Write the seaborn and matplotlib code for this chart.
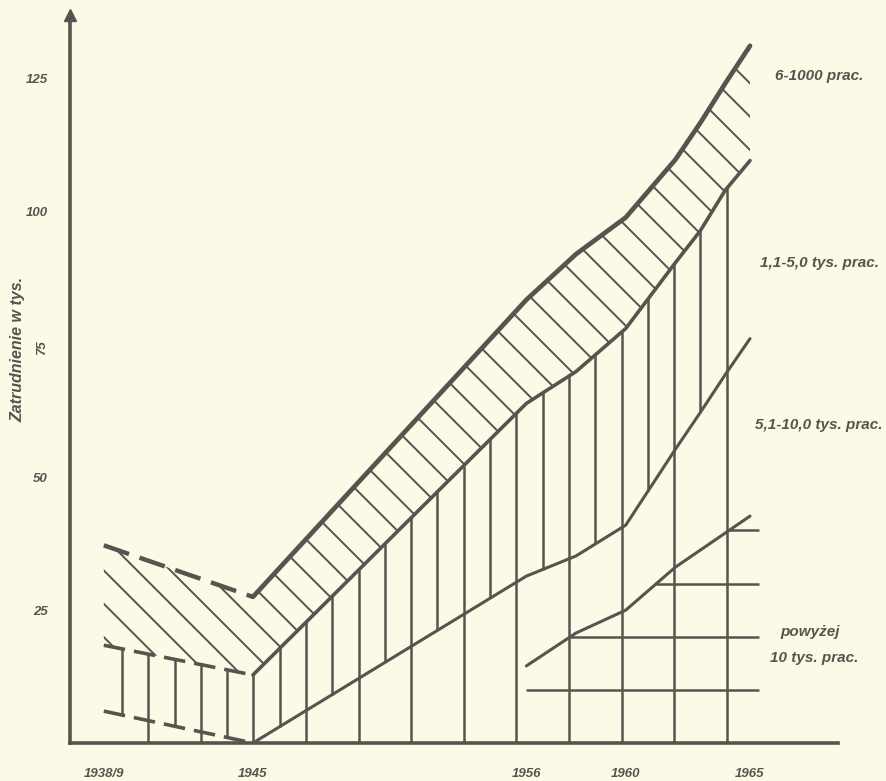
import numpy as np
import seaborn as sns
import matplotlib.pyplot as plt

# Employment (thousands) by plant size - cumulative upper boundaries of each band
years = [1939, 1945, 1956, 1958, 1960, 1962, 1963, 1964, 1965]
total = [37.2, 27.5, 83.4, 92.0, 98.9, 109.8, 116.7, 124.1, 131.2]      # top of 6-1000 prac.
upto_5000 = [18.4, 12.8, 63.9, 69.9, 78.0, 90.4, 96.4, 104.0, 109.6]   # top of 1,1-5,0 tys. prac.
upto_10000 = [6.0, 0.0, 31.4, 35.2, 41.0, 55.3, 62.2, 69.3, 76.1]      # top of 5,1-10,0 tys. prac.
over_10000 = [np.nan, np.nan, 14.5, 20.7, 25.0, 33.1, 36.3, 39.5, 42.7]  # powyzej 10 tys. prac.

x_ticks = [1939, 1945, 1956, 1960, 1965]
x_labels = ['1938/9', '1945', '1956', '1960', '1965']
y_ticks = [25, 50, 75, 100, 125]

paper = '#fcfae6'
ink = '#55554f'

sns.set_theme(style='white')
plt.rcParams['font.family'] = ['Liberation Sans', 'DejaVu Sans']
plt.rcParams['hatch.linewidth'] = 1.4
plt.rcParams['hatch.color'] = ink

fig = plt.figure(figsize=(8.86, 7.81), dpi=100, facecolor=paper)
ax = fig.add_axes([70 / 886, 38 / 781, 768 / 886, 728 / 781])
ax.set_facecolor(paper)

# diagonal hatch: small plants
ax.fill_between(years, upto_5000, total, facecolor='none', edgecolor=ink,
                hatch='\\', linewidth=0)

# vertical hatch: every second line runs down to the axis
hatch_x = np.arange(1939.73, 1964.5, 1.058)
tops = np.interp(hatch_x, years, upto_5000)
lows = np.interp(hatch_x, years, upto_10000)
lows = np.where(np.arange(len(hatch_x)) % 2 == 1, 0, lows)
ax.vlines(hatch_x, lows, tops, color=ink, lw=1.8)

# horizontal hatch: plants above 10 thousand
big_years = years[2:]
big_vals = over_10000[2:]
levels = [10, 20, 30, 40]
starts = np.interp(levels, big_vals, big_years)
ax.hlines(levels, starts, 1965.35, color=ink, lw=1.8)

# boundaries: dashed before 1945, solid after
dash = (0, (6, 2.5))
sns.lineplot(x=years[:2], y=total[:2], ax=ax, color=ink, lw=3.2, linestyle=dash)
sns.lineplot(x=years[:2], y=upto_5000[:2], ax=ax, color=ink, lw=2.6, linestyle=dash)
sns.lineplot(x=years[:2], y=upto_10000[:2], ax=ax, color=ink, lw=2.6, linestyle=dash)
sns.lineplot(x=years[1:], y=total[1:], ax=ax, color=ink, lw=3.4)
sns.lineplot(x=years[1:], y=upto_5000[1:], ax=ax, color=ink, lw=2.6)
sns.lineplot(x=years[1:], y=upto_10000[1:], ax=ax, color=ink, lw=2.2)
sns.lineplot(x=big_years, y=big_vals, ax=ax, color=ink, lw=2.2)

ax.set_xlim(1937.64, 1968.54)
ax.set_ylim(0, 137)
ax.set_xticks(x_ticks)
ax.set_xticklabels(x_labels)
ax.set_yticks(y_ticks)
ax.set_yticklabels([str(v) for v in y_ticks])
for lab in ax.get_xticklabels() + ax.get_yticklabels():
    lab.set_fontweight('bold')
    lab.set_fontstyle('italic')
    lab.set_fontsize(9.5)
    lab.set_color(ink)
ax.get_yticklabels()[2].set_rotation(90)
ax.tick_params(axis='x', length=4, width=1, color=ink, pad=14)
ax.tick_params(axis='y', length=4, width=1, color=ink, pad=12)

ax.set_ylabel('Zatrudnienie w tys.', fontsize=11.5, fontweight='bold',
              fontstyle='italic', color=ink)
ax.yaxis.set_label_coords(-0.058, 0.54)
ax.set_xlabel('')

for side in ['top', 'right']:
    ax.spines[side].set_visible(False)
for side in ['left', 'bottom']:
    ax.spines[side].set_color(ink)
    ax.spines[side].set_linewidth(2.6)
ax.plot([0], [1], marker='^', ms=8, color=ink, transform=ax.transAxes, clip_on=False)

lab_kw = dict(fontsize=11, fontweight='bold', fontstyle='italic', color=ink, va='center')
ax.text(1966.0, 125.6, '6-1000 prac.', ha='left', **lab_kw)
ax.text(1965.4, 90.4, '1,1-5,0 tys. prac.', ha='left', **lab_kw)
ax.text(1965.2, 59.8, '5,1-10,0 tys. prac.', ha='left', **lab_kw)
ax.text(1967.4, 20.9, 'powyżej', ha='center', **lab_kw)
ax.text(1967.6, 16.0, '10 tys. prac.', ha='center', **lab_kw)

fig.savefig('out.png', dpi=100, facecolor=paper)
